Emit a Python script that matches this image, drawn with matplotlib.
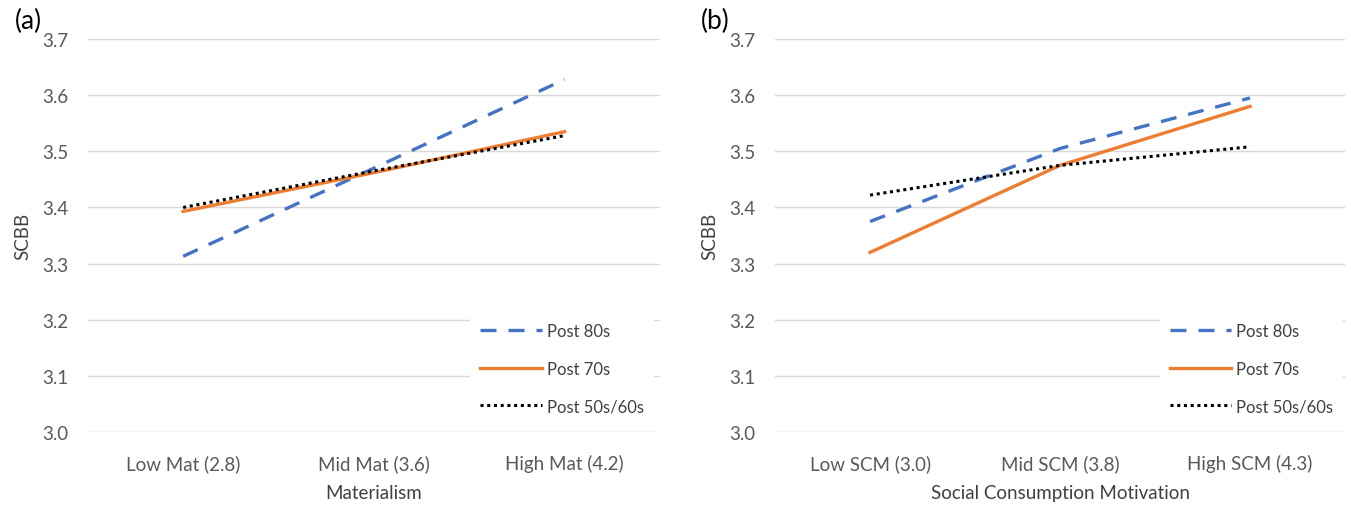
import matplotlib.pyplot as plt

plt.rcParams['font.family'] = ['Lato', 'DejaVu Sans']

series = ['Post 80s', 'Post 70s', 'Post 50s/60s']

cats_a = ['Low Mat (2.8)', 'Mid Mat (3.6)', 'High Mat (4.2)']
post80_a = [3.313, 3.470, 3.628]
post70_a = [3.393, 3.462, 3.535]
post5060_a = [3.400, 3.465, 3.528]

cats_b = ['Low SCM (3.0)', 'Mid SCM (3.8)', 'High SCM (4.3)']
post80_b = [3.375, 3.505, 3.595]
post70_b = [3.320, 3.475, 3.580]
post5060_b = [3.422, 3.475, 3.508]

yticks = [3.0, 3.1, 3.2, 3.3, 3.4, 3.5, 3.6, 3.7]

styles = [dict(color='#4472C4', linestyle=(0, (4.8, 3.6)), lw=2.4, dash_capstyle='butt'),
          dict(color='#ED7D31', linestyle='-', lw=2.4),
          dict(color='black', linestyle=(0, (1, 1.2)), lw=2.2)]

fig = plt.figure(figsize=(13.51, 5.06), dpi=100)
ax_a = fig.add_axes([0.065, 0.144, 0.4235, 0.777])
ax_b = fig.add_axes([0.5737, 0.144, 0.4219, 0.777])

panels = [(ax_a, cats_a, [post80_a, post70_a, post5060_a], 'Materialism', '(a)', 0.668),
          (ax_b, cats_b, [post80_b, post70_b, post5060_b], 'Social Consumption Motivation', '(b)', 0.675)]

for ax, cats, vals, xlabel, tag, legx in panels:
    x = range(len(cats))
    for name, v, st in zip(series, vals, styles):
        ax.plot(x, v, label=name, **st)
    ax.set_xlim(-0.5, 2.5)
    ax.set_ylim(3.0, 3.7)
    ax.set_yticks(yticks)
    ax.set_yticklabels([f'{t:.1f}' for t in yticks], fontsize=13.5, color='#595959')
    ax.set_xticks(list(x))
    ax.set_xticklabels(cats, fontsize=13.5, color='#595959')
    ax.tick_params(length=0)
    ax.tick_params(axis='x', pad=16)
    ax.tick_params(axis='y', pad=14)
    ax.grid(axis='y', color='#d9d9d9', lw=1)
    ax.set_axisbelow(True)
    for s in ax.spines.values():
        s.set_visible(False)
    ax.set_xlabel(xlabel, fontsize=13.5, color='#404040', labelpad=8)
    ax.set_ylabel('SCBB', fontsize=13.5, color='#404040', labelpad=8)
    ax.text(-0.08, 1.048, tag, transform=ax.transAxes, fontsize=19, ha='right', va='center')
    leg = ax.legend(loc='lower left', bbox_to_anchor=(legx, 0.02), frameon=True, fontsize=12,
                    handlelength=3.7, handletextpad=0.3, labelspacing=1.3, borderaxespad=0.0,
                    borderpad=0.6)
    leg.get_frame().set_edgecolor('none')
    leg.get_frame().set_facecolor('white')
    leg.get_frame().set_alpha(1.0)
    leg.get_frame().set_boxstyle('square', pad=0)
    for t in leg.get_texts():
        t.set_color('#404040')

fig.savefig('out.png', dpi=100)
